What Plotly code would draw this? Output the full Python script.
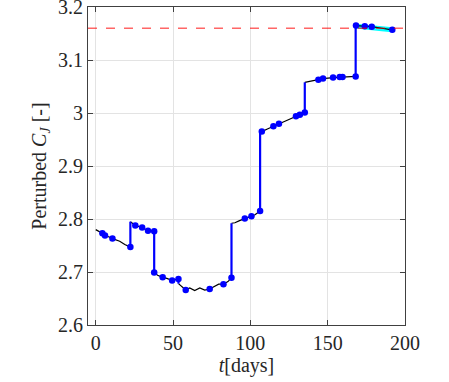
import plotly.graph_objects as go

# propagated trajectory between manoeuvres (None = break at a manoeuvre)
t_black = [0, 4.3, 6.0, 8, 10.8, 13, 15.5, 18.8, 22.4, None,
           22.4, 25.6, 30, 33.8, 37.8, None,
           37.8, 40, 43.3, 46, 49.4, 53.5, None,
           53.5, 56, 58.2, 60.8, 64, 67.3, 70.5, 73.7, 77, 79.5, 82.6, 85.5, 87.8, None,
           87.8, 90, 93, 96.4, 100.7, 103, 106.3, None,
           106.3, 107.4, 111, 114.9, 118.5, 124, 129.5, 132, 135.2, None,
           135.2, 140, 144, 147, 153.5, 157.8, 159.6, 164, 168.1, None,
           168.1, 174, 178.5, 185, 191.8]
cj_black = [2.780, 2.773, 2.769, 2.767, 2.763, 2.761, 2.758, 2.752, 2.747, None,
            2.795, 2.788, 2.784, 2.778, 2.777, None,
            2.699, 2.694, 2.690, 2.688, 2.684, 2.687, None,
            2.678, 2.671, 2.666, 2.670, 2.665, 2.670, 2.666, 2.668, 2.673, 2.677, 2.677, 2.682, 2.689, None,
            2.792, 2.793, 2.797, 2.801, 2.805, 2.808, 2.815, None,
            2.964, 2.965, 2.970, 2.975, 2.980, 2.988, 2.994, 2.997, 3.001, None,
            3.058, 3.061, 3.063, 3.065, 3.067, 3.068, 3.068, 3.069, 3.069, None,
            3.165, 3.164, 3.163, 3.160, 3.157]

# manoeuvres: time, C_J before, C_J after
t_jump = [22.4, 37.8, 53.5, 87.8, 106.3, 135.2, 168.1]
cj_before = [2.747, 2.777, 2.687, 2.689, 2.815, 3.001, 3.069]
cj_after = [2.795, 2.699, 2.678, 2.792, 2.964, 3.058, 3.165]

# sampled points
t_dots = [4.3, 6.0, 10.8, 22.4, 25.6, 30, 33.8, 37.8, 37.8, 43.3, 49.4, 53.5,
          58.2, 73.7, 82.6, 87.8, 96.4, 100.7, 106.3, 107.4, 114.9, 118.5,
          129.5, 132, 135.2, 144, 147, 153.5, 157.8, 159.6, 168.1, 168.3,
          174, 178.5, 191.8]
cj_dots = [2.773, 2.769, 2.763, 2.747, 2.788, 2.784, 2.778, 2.777, 2.699, 2.690, 2.684, 2.687,
           2.666, 2.668, 2.677, 2.689, 2.801, 2.805, 2.815, 2.965, 2.975, 2.980,
           2.994, 2.997, 3.001, 3.063, 3.065, 3.067, 3.068, 3.068, 3.069, 3.165,
           3.164, 3.163, 3.157]

# final arc
t_cyan = [168.1, 174, 178.5, 185, 191.8]
cj_cyan = [3.164, 3.163, 3.161, 3.159, 3.157]

cj_target = 3.16

jx, jy = [], []
for t, a, b in zip(t_jump, cj_before, cj_after):
    jx += [t, t, None]
    jy += [a, b, None]

fig = go.Figure()
fig.add_hline(y=cj_target, line=dict(color='rgba(255,0,0,0.6)', width=1.3, dash='dash'))
fig.add_trace(go.Scatter(x=t_cyan, y=cj_cyan, mode='lines',
                         line=dict(color='#00ffff', width=5)))
fig.add_trace(go.Scatter(x=t_black, y=cj_black, mode='lines',
                         line=dict(color='black', width=1.2)))
fig.add_trace(go.Scatter(x=jx, y=jy, mode='lines',
                         line=dict(color='#0000ff', width=2.2)))
fig.add_trace(go.Scatter(x=t_dots, y=cj_dots, mode='markers',
                         marker=dict(color='#0000ff', size=6.5)))

font = 'Liberation Serif'
axis = dict(showline=True, linecolor='#404040', linewidth=1, mirror='ticks',
            ticks='inside', ticklen=5, tickcolor='#404040', automargin=False,
            ticklabeloverflow='allow',
            showgrid=True, gridcolor='#e3e3e3', gridwidth=1, zeroline=False,
            tickfont=dict(family=font, size=20, color='#262626'))
fig.update_xaxes(axis, range=[-5, 200.01], tickvals=[0, 50, 100, 150, 200],
                 title=dict(text='<i>t</i>[days]', standoff=0,
                            font=dict(family=font, size=20, color='#262626')))
fig.update_yaxes(axis, range=[2.6, 3.2001], tickvals=[2.6, 2.7, 2.8, 2.9, 3.0, 3.1, 3.2],
                 ticktext=['2.6', '2.7', '2.8', '2.9', '3', '3.1', '3.2'],
                 title=dict(text='Perturbed <i>C<sub>J</sub></i> [-]', standoff=6,
                            font=dict(family=font, size=20, color='#262626')))
fig.update_layout(width=449, height=382, showlegend=False,
                  margin=dict(l=88, r=44, t=7, b=57),
                  plot_bgcolor='white', paper_bgcolor='white')
# drop the page's default body margin so the figure sits at the window corner
fig.write_html('out.html', config={'displayModeBar': False},
               post_script="document.body.style.margin='0';")
